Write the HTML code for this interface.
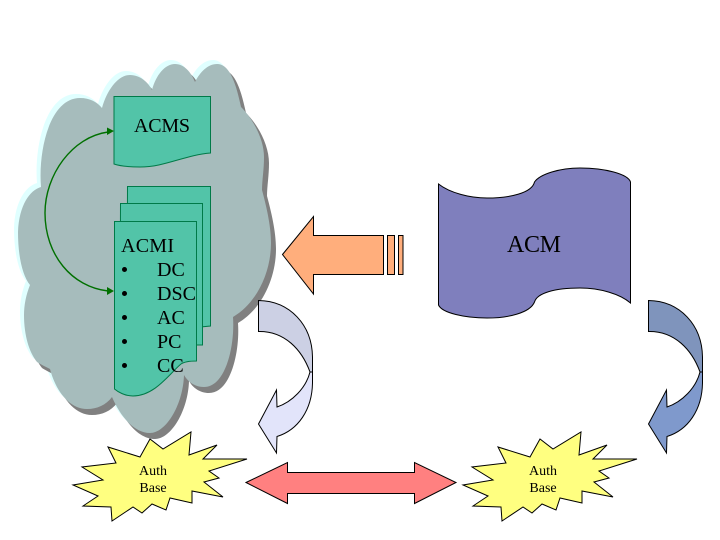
<!DOCTYPE html>
<html>
<head>
<meta charset="utf-8">
<style>
html,body{margin:0;padding:0;background:#fff;width:720px;height:540px;overflow:hidden}
svg{display:block}
text{font-family:"Liberation Serif",serif;fill:#000}
</style>
</head>
<body>
<svg width="720" height="540" viewBox="0 0 720 540" xmlns="http://www.w3.org/2000/svg">
<defs>
<path id="cloud" d="M18,232 C19,205 30,190 41,187 C38,150 50,98 80,98 C90,98 97,102 102,108 C107,90 118,75 130,75 C140,75 148,82 152,90 C156,75 165,64 175,64 C184,64 191,72 195,82 C200,72 208,64 217,64 C228,64 235,78 241,107 C254,120 264,140 264,157 C264,170 262,180 262,190 C266,205 271,225 271,243 C271,272 257,303 233,317 C235,345 226,387 204,387 C195,387 188,382 184,375 C183,405 166,433 150,433 C136,433 122,420 112,397 C106,405 97,409 87,409 C70,409 56,392 50,369 C44,366 40,364 37,362 C29,352 24,335 24,315 C24,305 26,295 30,285 C22,275 18,255 18,232 Z"/>
<path id="star" d="M191,432 L189,455 L217,445 L203,459 L247,459 L209,471 L219,478 L204,482 L223,497 L192,491 L192,503 L170,498 L166,510 L152,504 L142,513 L133,507 L112,521 L111,507 L83,506 L98,496 L73,485 L103,480 L82,467 L116,463 L108,447 L140,457 L150,439 L163,449 Z"/>
</defs>

<use href="#cloud" transform="translate(-4,-4)" fill="#e0ffff"/>
<use href="#cloud" transform="translate(5,6)" fill="#808080"/>
<use href="#cloud" fill="#a6bcbc"/>

<g fill="#52c4a8" stroke="#007a48" stroke-width="1">
<path d="M114,96.500 H210.500 V153 C185,155 165,167 140,167 C130,167 120,166 114,164 Z"/>
<path d="M127.500,186.500 H210.500 V326 L190,328 L127,328 Z"/>
<path d="M120.500,203.500 H202.500 V345 L180,345 L120,345 Z"/>
<path d="M114.500,221.500 H196.500 V361 C188,361 184,362 181,364 C170,373 155,396 133,396 C125,396 118,392 114.500,389 Z"/>
</g>

<g fill="none" stroke="#007000" stroke-width="1.400">
<path d="M108,132 C72,137 45,175 45,213 C45,255 72,287 108,291"/>
</g>
<path d="M114,131 L107,127.500 L107,135 Z" fill="#007000"/>
<path d="M114,291 L107,287 L107,295 Z" fill="#007000"/>

<text x="134" y="132" font-size="20" textLength="56">ACMS</text>
<text x="121" y="252" font-size="20" textLength="53">ACMI</text>
<text x="157" y="276" font-size="20">DC</text>
<text x="157" y="300" font-size="20">DSC</text>
<text x="157" y="324" font-size="20">AC</text>
<text x="157" y="348" font-size="20">PC</text>
<text x="157" y="372" font-size="20">CC</text>
<g fill="#000">
<circle cx="124.500" cy="269.500" r="2.500"/>
<circle cx="124.500" cy="293.500" r="2.500"/>
<circle cx="124.500" cy="317.500" r="2.500"/>
<circle cx="124.500" cy="341.500" r="2.500"/>
<circle cx="124.500" cy="365.500" r="2.500"/>
</g>

<g fill="#ffae7c" stroke="#000" stroke-width="1">
<path d="M282.500,254.500 L313.500,216.500 V235.500 H383.500 V274.500 H313.500 V294 Z"/>
<rect x="387.500" y="235.500" width="7" height="39"/>
<rect x="398.500" y="235.500" width="4.500" height="39"/>
</g>

<path d="M438.500,184 C450,193 470,198 487,198 C510,198 532,193 534.500,182 C540,174 560,168 580,168 C605,168 628,174 630.500,182 V303 C620,294 600,288 580,288 C555,288 537,293 534.500,302 C530,313 508,318 487,318 C465,318 442,313 438.500,305 Z" fill="#7f7fbd" stroke="#000" stroke-width="1"/>
<text x="507" y="252" font-size="24" textLength="54">ACM</text>

<g stroke="#000" stroke-width="1">
<path d="M258.500,300.500 C290,301 312,325 312.500,357 L312.500,372 L310,372 C302,350 285,331 258.500,331.500 Z" fill="#ccd0e4"/>
<path d="M310,372 L312.500,372 L312.500,383 C312,410 298,430 277,436.500 L276.500,453 L258.500,424 L276.500,390 L277,407 C292,402 306,388 310,372 Z" fill="#e2e4fa"/>
<path d="M648.500,300.500 C680,301 702,325 702.500,357 L702.500,372 L700,372 C692,350 675,331 648.500,331.500 Z" fill="#7f94bc"/>
<path d="M700,372 L702.500,372 L702.500,383 C702,410 688,430 667,436.500 L666.500,453 L648.500,424 L666.500,390 L667,407 C682,402 696,388 700,372 Z" fill="#7f99cc"/>
</g>

<use href="#star" fill="#ffff80" stroke="#000" stroke-width="1"/>
<use href="#star" transform="translate(390,0)" fill="#ffff80" stroke="#000" stroke-width="1"/>
<text x="153" y="475" font-size="14" text-anchor="middle">Auth</text>
<text x="153" y="492" font-size="14" text-anchor="middle">Base</text>
<text x="543" y="475" font-size="14" text-anchor="middle">Auth</text>
<text x="543" y="492" font-size="14" text-anchor="middle">Base</text>

<path d="M246,482.500 L287.500,462.500 V472.500 H414.500 V462.500 L456,482.500 L414.500,503.500 V493.500 H287.500 V503.500 Z" fill="#ff8080" stroke="#000" stroke-width="1"/>
</svg>
</body>
</html>
